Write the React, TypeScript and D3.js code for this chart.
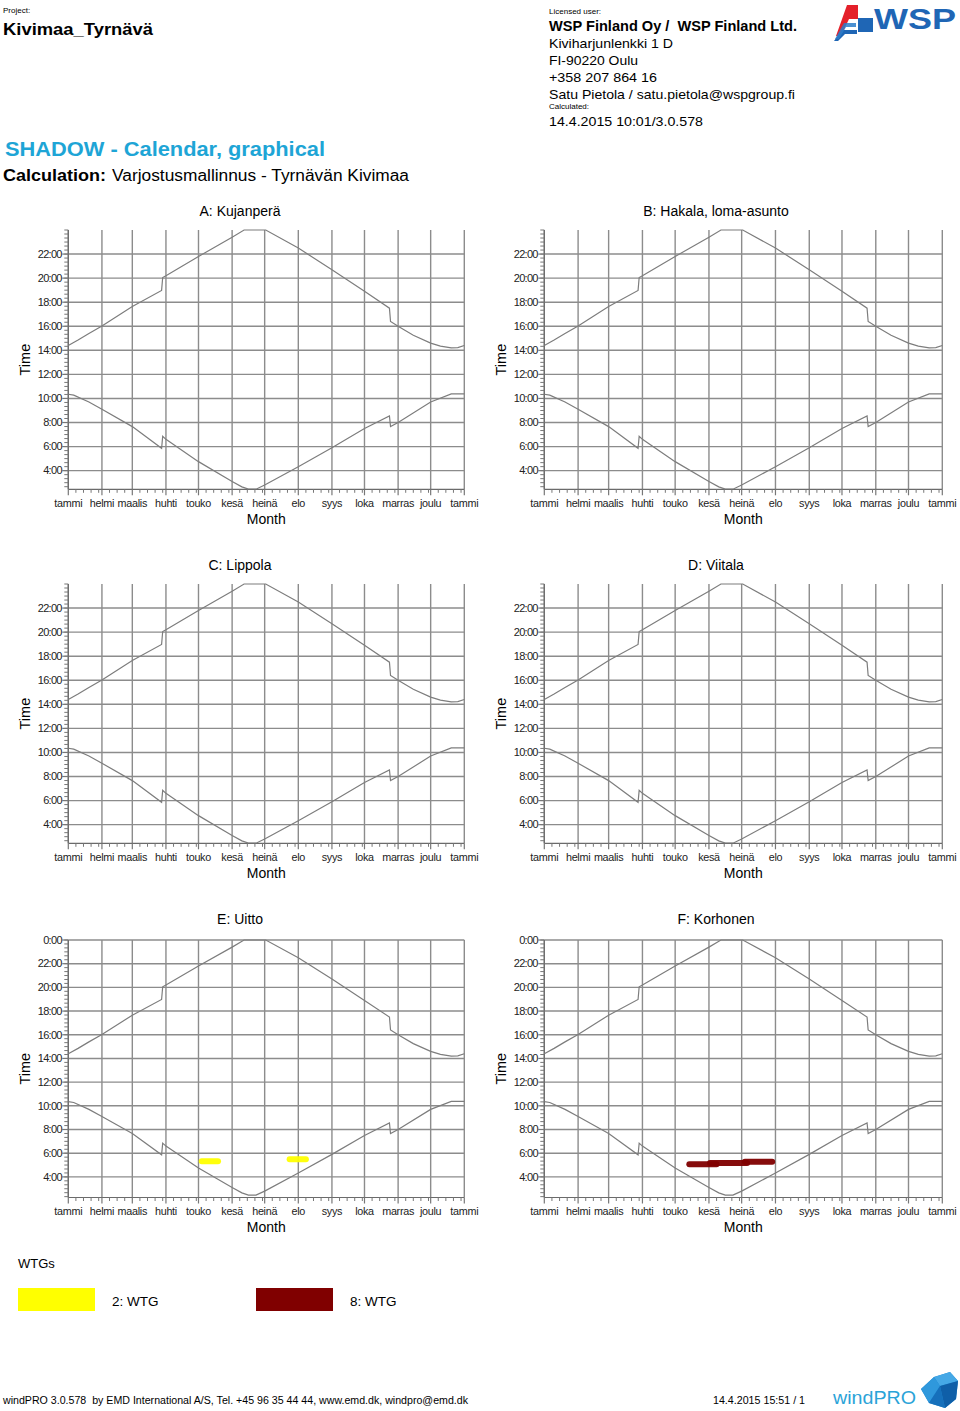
import React from "react";
import * as d3 from "d3";

// ---------- data ----------
const MONTH_LABELS = ["tammi", "helmi", "maalis", "huhti", "touko", "kesä", "heinä", "elo", "syys", "loka", "marras", "joulu", "tammi"];
const HOUR_TICKS_STD = [4, 6, 8, 10, 12, 14, 16, 18, 20, 22];
const HOUR_TICKS_EXT = [4, 6, 8, 10, 12, 14, 16, 18, 20, 22, 24];

const PANEL_TITLES = ["A: Kujanperä", "B: Hakala, loma-asunto", "C: Lippola", "D: Viitala", "E: Uitto", "F: Korhonen"];

// upper limit curve (latest possible shadow time), hours
const UPPER_DATES = ["2015-01-01", "2015-01-10", "2015-01-20", "2015-02-01", "2015-03-01", "2015-03-28", "2015-03-29", "2015-04-01", "2015-05-01", "2015-06-01", "2015-06-12", "2015-07-02", "2015-08-01", "2015-09-01", "2015-10-01", "2015-10-24", "2015-10-25", "2015-11-01", "2015-11-15", "2015-12-01", "2015-12-10", "2015-12-20", "2015-12-26", "2016-01-01"];
const UPPER_HOURS = [14.4, 14.85, 15.4, 16.03, 17.65, 18.98, 20.05, 20.2, 21.8, 23.4, 24.0, 24.0, 22.5, 20.7, 18.9, 17.5, 16.4, 16.0, 15.25, 14.6, 14.35, 14.2, 14.22, 14.4];

// lower limit curve (earliest possible shadow time), hours
const LOWER_DATES = ["2015-01-01", "2015-01-06", "2015-01-20", "2015-02-01", "2015-03-01", "2015-03-28", "2015-03-29", "2015-04-01", "2015-05-01", "2015-06-01", "2015-06-10", "2015-06-16", "2015-06-23", "2015-07-01", "2015-08-01", "2015-09-01", "2015-10-01", "2015-10-24", "2015-10-25", "2015-11-01", "2015-12-01", "2015-12-20", "2016-01-01"];
const LOWER_HOURS = [10.35, 10.28, 9.7, 9.1, 7.66, 5.86, 6.85, 6.6, 4.75, 3.1, 2.65, 2.46, 2.46, 2.8, 4.33, 5.9, 7.5, 8.55, 7.66, 8.0, 9.7, 10.38, 10.38];

// shadow occurrences (E: WTG 2, F: WTG 8)
const SHADOW_E_FROM = ["2015-05-04", "2015-07-24"];
const SHADOW_E_TO = ["2015-05-19", "2015-08-08"];
const SHADOW_E_HOUR = [5.31, 5.48];
const SHADOW_F_FROM = ["2015-05-14", "2015-06-02", "2015-07-04"];
const SHADOW_F_TO = ["2015-06-08", "2015-07-06", "2015-07-29"];
const SHADOW_F_HOUR = [5.07, 5.17, 5.27];

const LEGEND_LABELS = ["2: WTG", "8: WTG"];
const LEGEND_COLORS = ["#ffff00", "#800000"];

// ---------- helpers ----------
const parse = d3.timeParse("%Y-%m-%d");
const upper = UPPER_DATES.map((d, i) => ({ d: parse(d)!, h: UPPER_HOURS[i] }));
const lower = LOWER_DATES.map((d, i) => ({ d: parse(d)!, h: LOWER_HOURS[i] }));
const shadowsE = SHADOW_E_FROM.map((f, i) => ({ from: parse(f)!, to: parse(SHADOW_E_TO[i])!, h: SHADOW_E_HOUR[i], color: LEGEND_COLORS[0] }));
const shadowsF = SHADOW_F_FROM.map((f, i) => ({ from: parse(f)!, to: parse(SHADOW_F_TO[i])!, h: SHADOW_F_HOUR[i], color: LEGEND_COLORS[1] }));

const FONT = "'Liberation Sans', Arial, sans-serif";
const GRID = "#8c8c8c";
const CURVE = "#7d7d7d";

type PanelProps = {
  x0: number; w: number; top: number; bottom: number; domain: [number, number];
  ticks: number[]; title: string; titleX: number; titleY: number; shadows: any[]; id: string;
};

function Panel({ x0, w, top, bottom, domain, ticks, title, titleX, titleY, shadows, id }: PanelProps) {
  const start = new Date(2015, 0, 1);
  const end = new Date(2016, 0, 1);
  const x = d3.scaleTime().domain([start, end]).range([x0, x0 + w]);
  const y = d3.scaleLinear().domain(domain).range([bottom, top]);
  const monthTicks = d3.timeMonth.range(start, d3.timeDay.offset(end, 1));
  const weekTicks = d3.timeDay.every(7)!.range(start, end).filter((d) => d.getDate() !== 1);
  const minorY = d3.range(Math.ceil(domain[0] * 3) / 3, domain[1] + 1e-6, 1 / 3);
  const line = d3.line<{ d: Date; h: number }>().x((p) => x(p.d)).y((p) => y(Math.min(p.h, domain[1])));
  const midX = x0 + w / 2;
  const midY = (top + bottom) / 2;
  return (
    <g>
      <defs>
        <clipPath id={id}>
          <rect x={x0} y={top - 1} width={w + 1} height={bottom - top + 1} />
        </clipPath>
      </defs>
      <text x={titleX} y={titleY} fontFamily={FONT} fontSize={14} textAnchor="middle" fill="#000">{title}</text>
      {monthTicks.map((d, i) => (
        <line key={"vg" + i} x1={x(d)} x2={x(d)} y1={top} y2={bottom} stroke={GRID} strokeWidth={1.4} />
      ))}
      {ticks.map((h) => (
        <line key={"hg" + h} x1={x0} x2={x0 + w} y1={y(h)} y2={y(h)} stroke={GRID} strokeWidth={1.4} />
      ))}
      <line x1={x0} x2={x0} y1={top} y2={bottom} stroke="#6a6a6a" strokeWidth={1.2} />
      <line x1={x0} x2={x0 + w} y1={bottom} y2={bottom} stroke="#6a6a6a" strokeWidth={1.2} />
      {minorY.map((h, i) => (
        <line key={"my" + i} x1={x0 - 4} x2={x0} y1={y(h)} y2={y(h)} stroke="#777" strokeWidth={1} />
      ))}
      {ticks.map((h) => (
        <line key={"My" + h} x1={x0 - 6} x2={x0} y1={y(h)} y2={y(h)} stroke="#777" strokeWidth={1.2} />
      ))}
      {weekTicks.map((d, i) => (
        <line key={"wx" + i} x1={x(d)} x2={x(d)} y1={bottom} y2={bottom + 3.5} stroke="#777" strokeWidth={1} />
      ))}
      {monthTicks.map((d, i) => (
        <line key={"mx" + i} x1={x(d)} x2={x(d)} y1={bottom} y2={bottom + 6} stroke="#777" strokeWidth={1.2} />
      ))}
      {ticks.map((h) => (
        <text key={"yl" + h} x={x0 - 6.5} y={y(h) + 3.8} fontFamily={FONT} fontSize={11} letterSpacing={-0.7} textAnchor="end" fill="#222">
          {h === 24 ? "0:00" : `${h}:00`}
        </text>
      ))}
      {monthTicks.map((d, i) => (
        <text key={"xl" + i} x={x(d)} y={bottom + 17.5} fontFamily={FONT} fontSize={10.8} letterSpacing={-0.3} textAnchor="middle" fill="#222">
          {MONTH_LABELS[i]}
        </text>
      ))}
      <text x={midX} y={bottom + 34.5} fontFamily={FONT} fontSize={14} textAnchor="middle" fill="#000">Month</text>
      <text transform={`translate(${x0 - 38},${midY}) rotate(-90)`} fontFamily={FONT} fontSize={14.5} textAnchor="middle" fill="#000">Time</text>
      <g clipPath={`url(#${id})`}>
        <path d={line(upper) || ""} fill="none" stroke={CURVE} strokeWidth={1.2} />
        <path d={line(lower) || ""} fill="none" stroke={CURVE} strokeWidth={1.2} />
      </g>
      {shadows.map((s, i) => (
        <line key={"sh" + i} x1={x(s.from)} x2={x(s.to)} y1={y(s.h)} y2={y(s.h)} stroke={s.color}
          strokeWidth={6} strokeLinecap="round" opacity={0.95} />
      ))}
    </g>
  );
}

export default function App() {
  const colX = [68.3, 544.3];
  const colW = [396, 398];
  const colTitleX = [240, 716];
  const rowTop = [230, 584, 940];
  const rowBottom = [489.3, 843.3, 1197.5];
  const rowTitleY = [216, 570, 924];
  const rowDomain: [number, number][] = [[2.45, 24], [2.45, 24], [2.26, 24]];
  const rowTicks = [HOUR_TICKS_STD, HOUR_TICKS_STD, HOUR_TICKS_EXT];

  const panels = PANEL_TITLES.map((t, i) => {
    const r = Math.floor(i / 2);
    const c = i % 2;
    const shadows = i === 4 ? shadowsE : i === 5 ? shadowsF : [];
    return (
      <Panel key={t} id={"clip" + i} x0={colX[c]} w={colW[c]} top={rowTop[r]} bottom={rowBottom[r]}
        domain={rowDomain[r]} ticks={rowTicks[r]} title={t} titleX={colTitleX[c]} titleY={rowTitleY[r]} shadows={shadows} />
    );
  });

  return (
    <svg width={960} height={1411} style={{ position: "absolute", left: 0, top: 0, background: "#fff" }}>
      <rect x={0} y={0} width={960} height={1411} fill="#fff" />
      {/* header left */}
      <text x={3} y={13} fontFamily={FONT} fontSize={8} fill="#000">Project:</text>
      <text x={3} y={35} fontFamily={FONT} fontSize={17} fontWeight="bold" fill="#000" textLength={150} lengthAdjust="spacingAndGlyphs">Kivimaa_Tyrnävä</text>
      <text x={5} y={156} fontFamily={FONT} fontSize={21} fontWeight="bold" fill="#1ea5d6" textLength={320} lengthAdjust="spacingAndGlyphs">SHADOW - Calendar, graphical</text>
      <text x={3} y={181} fontFamily={FONT} fontSize={16} fontWeight="bold" fill="#000" textLength={103} lengthAdjust="spacingAndGlyphs">Calculation:</text>
      <text x={112} y={181} fontFamily={FONT} fontSize={16} fill="#000" textLength={297} lengthAdjust="spacingAndGlyphs">Varjostusmallinnus - Tyrnävän Kivimaa</text>
      {/* header right */}
      <text x={549} y={14} fontFamily={FONT} fontSize={8} fill="#000">Licensed user:</text>
      <text x={549} y={31} fontFamily={FONT} fontSize={14.5} fontWeight="bold" fill="#000" textLength={248} lengthAdjust="spacingAndGlyphs" style={{ whiteSpace: "pre" }}>{"WSP Finland Oy /  WSP Finland Ltd."}</text>
      <text x={549} y={48} fontFamily={FONT} fontSize={13.5} fill="#000" textLength={124} lengthAdjust="spacingAndGlyphs">Kiviharjunlenkki 1 D</text>
      <text x={549} y={65} fontFamily={FONT} fontSize={13.5} fill="#000" textLength={89} lengthAdjust="spacingAndGlyphs">FI-90220 Oulu</text>
      <text x={549} y={82} fontFamily={FONT} fontSize={13.5} fill="#000" textLength={108} lengthAdjust="spacingAndGlyphs">+358 207 864 16</text>
      <text x={549} y={99} fontFamily={FONT} fontSize={13.5} fill="#000" textLength={246} lengthAdjust="spacingAndGlyphs">Satu Pietola / satu.pietola@wspgroup.fi</text>
      <text x={549} y={109} fontFamily={FONT} fontSize={8} fill="#000">Calculated:</text>
      <text x={549} y={126} fontFamily={FONT} fontSize={13.5} fill="#000" textLength={154} lengthAdjust="spacingAndGlyphs">14.4.2015 10:01/3.0.578</text>
      {/* WSP logo */}
      <g>
        <polygon points="836,36 847,5 858,5 858,19 849,19 841,36" fill="#e4202a" />
        <polygon points="858,18 873,18 873,32 858,32" fill="#1f66b5" />
        <polygon points="834,41 842,30 857,30 857,34 845,34 838,41" fill="#1f66b5" />
        <polygon points="835,39 844,23 856,23 856,27 846,27 839,39" fill="#2c7cc9" opacity={0.85} />
        <text x={874} y={29} fontFamily={FONT} fontSize={29} fontWeight="bold" fill="#1f66b5" textLength={82} lengthAdjust="spacingAndGlyphs">WSP</text>
      </g>
      {panels}
      {/* legend */}
      <text x={18} y={1268} fontFamily={FONT} fontSize={13} fill="#000">WTGs</text>
      <rect x={18} y={1288} width={77} height={23} fill={LEGEND_COLORS[0]} />
      <text x={112} y={1306} fontFamily={FONT} fontSize={13.5} fill="#000">{LEGEND_LABELS[0]}</text>
      <rect x={256} y={1288} width={77} height={23} fill={LEGEND_COLORS[1]} />
      <text x={350} y={1306} fontFamily={FONT} fontSize={13.5} fill="#000">{LEGEND_LABELS[1]}</text>
      {/* footer */}
      <text x={3} y={1404} fontFamily={FONT} fontSize={10} fill="#000" textLength={465} lengthAdjust="spacingAndGlyphs" style={{ whiteSpace: "pre" }}>{"windPRO 3.0.578  by EMD International A/S, Tel. +45 96 35 44 44, www.emd.dk, windpro@emd.dk"}</text>
      <text x={713} y={1404} fontFamily={FONT} fontSize={10} fill="#000" textLength={92} lengthAdjust="spacingAndGlyphs">14.4.2015 15:51 / 1</text>
      <text x={833} y={1404} fontFamily={FONT} fontSize={19} fill="#2ba3d8" textLength={83} lengthAdjust="spacingAndGlyphs">windPRO</text>
      <g>
        <polygon points="934,1377 950,1372 958,1381 956,1399 945,1408 929,1403 921,1389" fill="#1d86cf" />
        <polygon points="934,1377 950,1372 958,1381 940,1386" fill="#45a8e6" />
        <polygon points="921,1389 934,1377 940,1386 929,1403" fill="#2f98dc" />
        <polygon points="940,1386 958,1381 956,1399 945,1408" fill="#0f5fa8" />
        <polygon points="929,1403 940,1386 945,1408" fill="#1670bb" />
      </g>
    </svg>
  );
}
